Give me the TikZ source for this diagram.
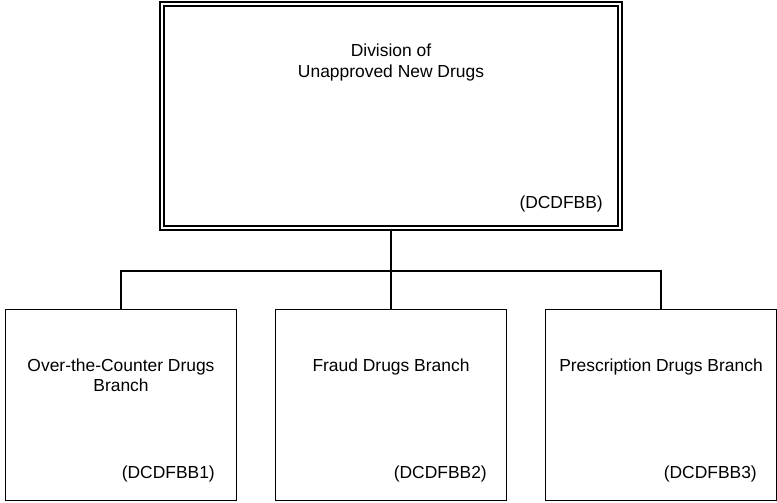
\documentclass[tikz,border=0pt]{standalone}
\usepackage{fontspec}
\setmainfont{Liberation Sans}
\tikzset{
  unitbox/.style={draw, line width=1.4bp, minimum width=231bp, minimum height=191bp, inner sep=0},
  divbox/.style={draw, double, line width=1.3bp, double distance=2.6bp, minimum width=458bp, minimum height=224bp, inner sep=0},
  title/.style={anchor=north, align=center, inner sep=0, font=\fontsize{17.5}{20.5}\selectfont},
  code/.style={anchor=base east, inner sep=0, font=\fontsize{17.5}{20.5}\selectfont},
  link/.style={line width=1.4bp}
}
\begin{document}
\begin{tikzpicture}[x=1bp, y=-1bp]
\useasboundingbox (0,0) rectangle (777,503);
% division
\node[divbox] (dun) at (391,116) {};
\node[title] (dunT) at (391,44) {Division of\\Unapproved New Drugs};
\node[code] (dunC) at (603,209) {(DCDFBB)};
% branches
\node[unitbox] (otc) at (121,405) {};
\node[unitbox] (fraud) at (391,405) {};
\node[unitbox] (rx) at (661,405) {};
\node[title] (otcT) at (121,358.5) {Over-the-Counter Drugs\\Branch};
\node[title] (fraudT) at (391,358.5) {Fraud Drugs Branch};
\node[title] (rxT) at (661,358.5) {Prescription Drugs Branch};
\node[code] (otcC) at (215,478) {(DCDFBB1)};
\node[code] (fraudC) at (487,478) {(DCDFBB2)};
\node[code] (rxC) at (757,478) {(DCDFBB3)};
% lines
\coordinate (bus) at (391,271);
\draw[link] (dun.south) -- (fraud.north);
\draw[link] (otc.north) -- (otc.north |- bus) -- (rx.north |- bus) -- (rx.north);
\end{tikzpicture}
\end{document}
